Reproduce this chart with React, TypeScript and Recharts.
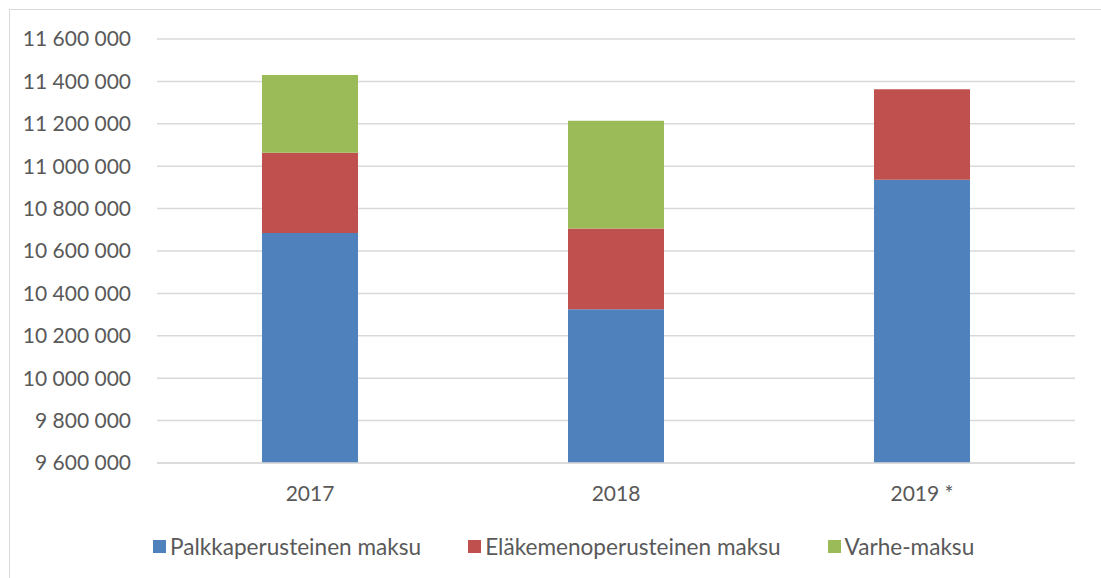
import React from 'react';
import { BarChart, Bar, XAxis, YAxis, CartesianGrid, Legend } from 'recharts';

const years = ['2017', '2018', '2019 *'];
const palkka = [10685000, 10325000, 10936000];
const elake = [378000, 381000, 427000];
const varhe = [367000, 508000, 0];
const yTicks = [9600000, 9800000, 10000000, 10200000, 10400000, 10600000, 10800000, 11000000, 11200000, 11400000, 11600000];

const seriesNames = ['Palkkaperusteinen maksu', 'Eläkemenoperusteinen maksu', 'Varhe-maksu'];
const colors = ['#4f81bd', '#c0504d', '#9bbb59'];

const data = years.map((year, i) => ({
  year,
  palkka: palkka[i],
  elake: elake[i],
  varhe: varhe[i],
}));

const fmt = (v: number) => String(v).replace(/\B(?=(\d{3})+(?!\d))/g, ' ');

const font = 'Lato, "Liberation Sans", sans-serif';

const LegendContent = () => (
  <div style={{ display: 'flex', alignItems: 'center', paddingLeft: 143, fontFamily: font, fontSize: 22.6, color: '#595959' }}>
    {seriesNames.map((name, i) => (
      <div key={name} style={{ display: 'flex', alignItems: 'center', marginRight: 47 }}>
        <span style={{ width: 13, height: 13, background: colors[i], marginRight: 4, display: 'inline-block' }} />
        <span>{name}</span>
      </div>
    ))}
  </div>
);

export default function App() {
  return (
    <div
      style={{
        position: 'absolute',
        left: 9,
        top: 9,
        width: 1101,
        height: 578,
        borderLeft: '1px solid #d9d9d9',
        borderTop: '1px solid #d9d9d9',
        background: '#fff',
      }}
    >
      <BarChart
        width={1091}
        height={568}
        data={data}
        margin={{ top: 29, right: 26, bottom: 18, left: 10 }}
        barSize={96}
      >
        <CartesianGrid vertical={false} stroke="#d9d9d9" strokeWidth={1.5} />
        <XAxis
          dataKey="year"
          axisLine={{ stroke: '#d9d9d9', strokeWidth: 1.5 }}
          tickLine={false}
          tickMargin={17}
          height={70}
          tick={{ fill: '#595959', fontSize: 21, fontFamily: font }}
        />
        <YAxis
          domain={[9600000, 11600000]}
          ticks={yTicks}
          allowDataOverflow
          axisLine={false}
          tickLine={false}
          tickMargin={20}
          width={137}
          tickFormatter={fmt}
          tick={{ fill: '#595959', fontSize: 21, fontFamily: font }}
        />
        <Legend verticalAlign="bottom" wrapperStyle={{ left: 0, width: 1091 }} content={<LegendContent />} />
        <Bar dataKey="palkka" stackId="a" name={seriesNames[0]} fill={colors[0]} isAnimationActive={false} />
        <Bar dataKey="elake" stackId="a" name={seriesNames[1]} fill={colors[1]} isAnimationActive={false} />
        <Bar dataKey="varhe" stackId="a" name={seriesNames[2]} fill={colors[2]} isAnimationActive={false} />
      </BarChart>
    </div>
  );
}
